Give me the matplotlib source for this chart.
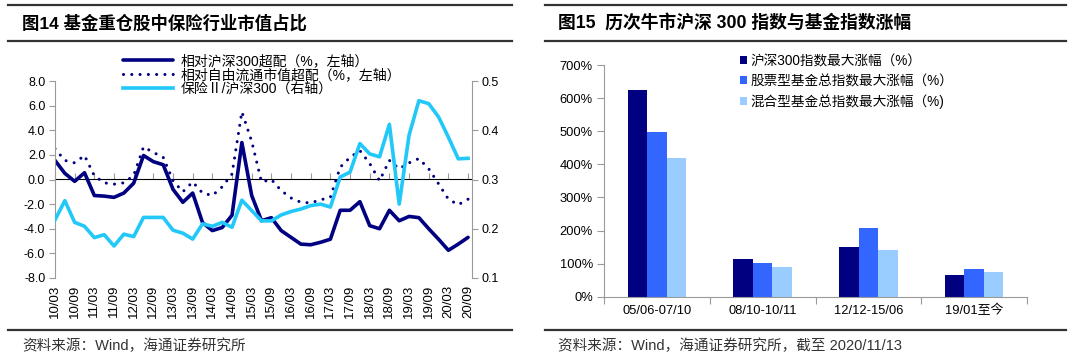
import numpy as np
import matplotlib
matplotlib.use('Agg')
import matplotlib.pyplot as plt
from matplotlib.lines import Line2D
from matplotlib.ticker import FuncFormatter

plt.rcParams['font.family'] = ['Liberation Sans', 'Noto Sans CJK SC']
plt.rcParams['axes.unicode_minus'] = False

# 图14：季度数据 10/03 ~ 20/09
tick_labels = ['10/03', '10/09', '11/03', '11/09', '12/03', '12/09', '13/03', '13/09',
               '14/03', '14/09', '15/03', '15/09', '16/03', '16/09', '17/03', '17/09',
               '18/03', '18/09', '19/03', '19/09', '20/03', '20/09']
rel_hs300 = [1.55, 0.5, -0.15, 0.55, -1.3, -1.35, -1.45, -1.1, -0.3, 1.95,
             1.45, 1.2, -0.8, -1.85, -1.1, -3.5, -4.15, -3.9, -2.9, 3.0,
             -1.3, -3.35, -3.1, -4.15, -4.7, -5.25, -5.3, -5.1, -4.85, -2.5,
             -2.5, -1.8, -3.75, -4.0, -2.5, -3.35, -3.0, -3.1, -4.0, -4.85,
             -5.75, -5.25, -4.7]
rel_free_float = [2.5, 1.55, 1.35, 1.95, 0.3, -0.27, -0.38, -0.27, 0.33, 2.65,
                  2.2, 1.8, -0.1, -1.0, -0.2, -1.1, -1.3, -0.6, 0.45, 5.5,
                  3.1, -0.2, 0.0, -0.9, -1.5, -1.85, -1.9, -1.65, -1.45, 1.0,
                  1.8, 2.35, 1.3, -0.1, 1.55, 0.87, 1.35, 1.7, 0.87, -0.35,
                  -1.6, -2.05, -1.6]
ins_ratio = [0.218, 0.257, 0.213, 0.205, 0.182, 0.188, 0.165, 0.189, 0.184, 0.223,
             0.223, 0.223, 0.197, 0.191, 0.179, 0.21, 0.205, 0.213, 0.203, 0.258,
             0.237, 0.216, 0.216, 0.228, 0.235, 0.240, 0.247, 0.250, 0.244, 0.305,
             0.315, 0.373, 0.352, 0.346, 0.412, 0.25, 0.39, 0.46, 0.454, 0.427,
             0.386, 0.342, 0.343]

# 图15：历次牛市涨幅（%）
periods = ['05/06-07/10', '08/10-10/11', '12/12-15/06', '19/01至今']
hs300_gain = [624, 113, 151, 65]
stock_fund_gain = [498, 101, 207, 83]
mixed_fund_gain = [419, 91, 141, 74]

W, H = 1080, 359
fig = plt.figure(figsize=(W / 100, H / 100), dpi=100)


def px_rect(x0, y0, x1, y1):
    return [x0 / W, 1 - y1 / H, (x1 - x0) / W, (y1 - y0) / H]


def hline(x0, x1, y):
    fig.add_artist(Line2D([x0 / W, x1 / W], [1 - y / H, 1 - y / H],
                          transform=fig.transFigure, color='#333333', lw=1.6))


GRAY = '#9a9a9a'

# ---------------- 左图 ----------------
ax = fig.add_axes(px_rect(55, 81, 472, 278))
x = np.arange(len(rel_hs300))
l1, = ax.plot(x, rel_hs300, color='#000080', lw=2.6, solid_joinstyle='round',
              solid_capstyle='round', label='相对沪深300超配（%，左轴）')
l2, = ax.plot(x, rel_free_float, color='#000080', lw=2.2, linestyle=(0, (0.01, 2.7)),
              dash_capstyle='round', label='相对自由流通市值超配（%，左轴）')
ax.set_xlim(0, 42.4)
ax.set_ylim(-8, 8)
ax.set_yticks(np.arange(-8, 8.1, 2))
ax.yaxis.set_major_formatter(FuncFormatter(lambda v, p: f'{v:.1f}'))
ax.set_xticks(x[::2])
ax.set_xticklabels(tick_labels, rotation=90)
ax.tick_params(axis='x', length=0, pad=5, labelsize=9.5)
ax.tick_params(axis='y', length=4, color=GRAY, labelsize=9, pad=3)
for s in ['top', 'bottom', 'right']:
    ax.spines[s].set_visible(False)
ax.spines['left'].set_color(GRAY)

# 零轴及刻度
sec = ax.secondary_xaxis(0.5)
sec.set_xticks(x[::2], labels=[])
sec.tick_params(length=4, color=GRAY)
sec.spines['bottom'].set_color(GRAY)

ax2 = ax.twinx()
l3, = ax2.plot(x, ins_ratio, color='#22c8f8', lw=2.6, solid_joinstyle='round',
               label='保险Ⅱ/沪深300（右轴）')
ax2.set_ylim(0.1, 0.5)
ax2.set_yticks([0.1, 0.2, 0.3, 0.4, 0.5])
ax2.yaxis.set_major_formatter(FuncFormatter(lambda v, p: f'{v:.1f}'))
ax2.tick_params(axis='y', length=4, color=GRAY, labelsize=9, pad=3)
for s in ['top', 'bottom', 'left']:
    ax2.spines[s].set_visible(False)
ax2.spines['right'].set_color(GRAY)

ax2.legend(handles=[l1, l2, l3], loc='upper left', bbox_to_anchor=(123 / W, 1 - 54 / H),
           bbox_transform=fig.transFigure, frameon=False, fontsize=10,
           handlelength=3.6, handletextpad=0.55, labelspacing=0.0,
           borderpad=0, borderaxespad=0)

# ---------------- 右图 ----------------
bx = fig.add_axes(px_rect(604, 65, 1027, 296.7))
pos = np.arange(len(periods))
w = 0.185
bx.bar(pos - w, hs300_gain, w, color='#000080', label='沪深300指数最大涨幅（%）')
bx.bar(pos, stock_fund_gain, w, color='#3366ff', label='股票型基金总指数最大涨幅（%）')
bx.bar(pos + w, mixed_fund_gain, w, color='#99ccff', label='混合型基金总指数最大涨幅（%)')
bx.set_xlim(-0.5, len(periods) - 0.5)
bx.set_ylim(0, 700)
bx.set_yticks(np.arange(0, 701, 100))
bx.yaxis.set_major_formatter(FuncFormatter(lambda v, p: f'{v:.0f}%'))
bx.set_xticks(np.arange(-0.5, len(periods), 1))
bx.set_xticklabels([])
bx.set_xticks(pos, minor=True)
bx.set_xticklabels(periods, minor=True)
bx.tick_params(axis='x', which='major', length=5, color=GRAY)
bx.tick_params(axis='x', which='minor', length=0, pad=6, labelsize=9.3)
bx.tick_params(axis='y', length=5, color=GRAY, labelsize=9.3, pad=3)
for s in ['top', 'right']:
    bx.spines[s].set_visible(False)
bx.spines['left'].set_color(GRAY)
bx.spines['bottom'].set_color(GRAY)
bx.legend(loc='upper left', bbox_to_anchor=(740 / W, 1 - 54 / H),
          bbox_transform=fig.transFigure, frameon=False, fontsize=9.8,
          handlelength=0.5, handleheight=0.5, handletextpad=0.25,
          labelspacing=0.45, borderpad=0, borderaxespad=0)

# ---------------- 标题与来源 ----------------
for x0, x1 in [(8, 512), (545, 1066)]:
    hline(x0, x1, 5)
    hline(x0, x1, 41)
    hline(x0, x1, 330)

fig.text(22 / W, 1 - 23 / H, '图14 基金重仓股中保险行业市值占比',
         fontsize=12.5, fontweight='bold', va='center', ha='left')
fig.text(558 / W, 1 - 23 / H, '图15  历次牛市沪深 300 指数与基金指数涨幅',
         fontsize=12.8, fontweight='bold', va='center', ha='left')
fig.text(22 / W, 1 - 346 / H, '资料来源：Wind，海通证券研究所',
         fontsize=10.5, color='#333333', va='center', ha='left')
fig.text(558 / W, 1 - 346 / H, '资料来源：Wind，海通证券研究所，截至 2020/11/13',
         fontsize=10.5, color='#333333', va='center', ha='left')

fig.savefig('out.png', dpi=100)
plt.close(fig)
